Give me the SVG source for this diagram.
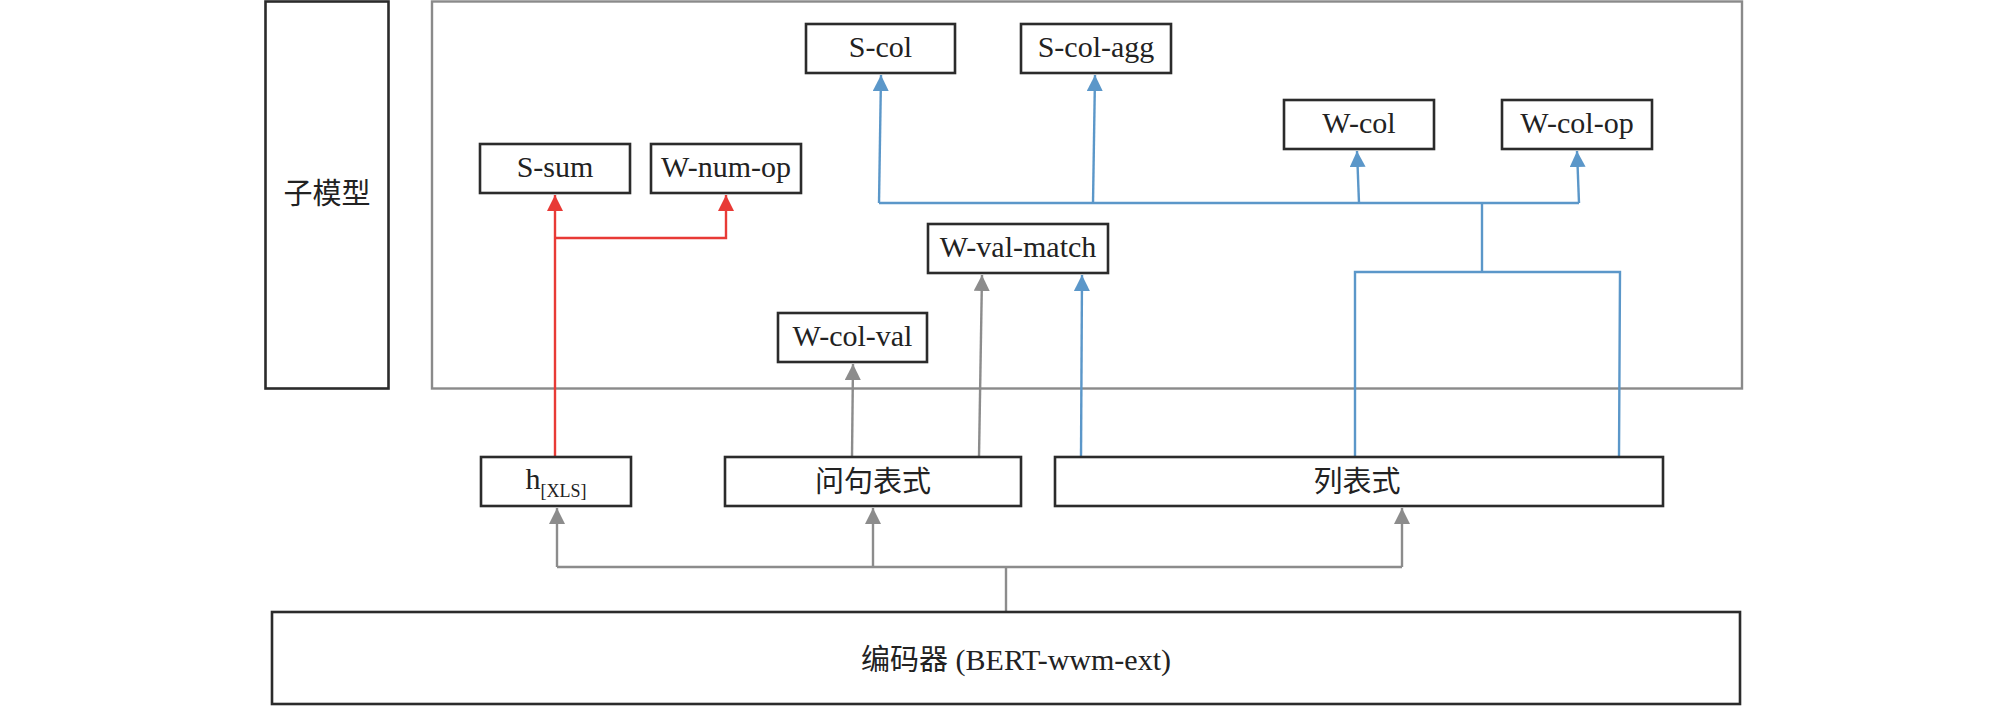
<svg xmlns="http://www.w3.org/2000/svg" width="2008" height="706" viewBox="0 0 2008 706">
<style>
.box{fill:#fff;stroke:#2b2b2b;stroke-width:2.6}
.frame{fill:none;stroke:#8a8a8a;stroke-width:2.4}
.t{font-family:"Liberation Serif","Noto Sans CJK SC",serif;font-size:30px;fill:#222;text-anchor:middle}
.zh{font-family:"Noto Sans CJK SC","Liberation Serif",sans-serif;font-size:29px;fill:#222;text-anchor:middle}
.red{fill:none;stroke:#e83a36;stroke-width:2.4}
.blue{fill:none;stroke:#5b97c9;stroke-width:2.4}
.gray{fill:none;stroke:#8c8c8c;stroke-width:2.4}
</style>
<defs>
<marker id="aRed" viewBox="0 0 16 16" markerWidth="16" markerHeight="16" markerUnits="userSpaceOnUse" refX="16" refY="8" orient="auto"><path d="M0,0 L16,8 L0,16 z" fill="#e83a36"/></marker>
<marker id="aBlue" viewBox="0 0 16 16" markerWidth="16" markerHeight="16" markerUnits="userSpaceOnUse" refX="16" refY="8" orient="auto"><path d="M0,0 L16,8 L0,16 z" fill="#5b97c9"/></marker>
<marker id="aGray" viewBox="0 0 16 16" markerWidth="16" markerHeight="16" markerUnits="userSpaceOnUse" refX="16" refY="8" orient="auto"><path d="M0,0 L16,8 L0,16 z" fill="#8c8c8c"/></marker>
</defs>
<rect width="2008" height="706" fill="#fff"/>

<g id="submodel-label">
<rect class="box" x="265.5" y="1.5" width="123" height="387"/>
<text class="zh" x="327" y="204">子模型</text>
</g>
<g id="submodel-frame">
<rect class="frame" x="432" y="1.5" width="1310" height="387"/>
</g>

<g id="connectors">
<path class="red" d="M555,457 L555,195" marker-end="url(#aRed)"/>
<path class="red" d="M555,238 L726,238 L726,195" marker-end="url(#aRed)"/>
<path class="gray" d="M852,457 L853,364" marker-end="url(#aGray)"/>
<path class="gray" d="M979,457 L982,275" marker-end="url(#aGray)"/>
<path class="blue" d="M1081,457 L1082,275" marker-end="url(#aBlue)"/>
<path class="blue" d="M1355,457 L1355,272 L1620,272 L1619,457"/>
<path class="blue" d="M1482,272 L1482,203"/>
<path class="blue" d="M879,203 L1579,203"/>
<path class="blue" d="M879,203 L881,75" marker-end="url(#aBlue)"/>
<path class="blue" d="M1093,203 L1095,75" marker-end="url(#aBlue)"/>
<path class="blue" d="M1359,203 L1357,151" marker-end="url(#aBlue)"/>
<path class="blue" d="M1579,203 L1577,151" marker-end="url(#aBlue)"/>
<path class="gray" d="M1006,612 L1006,567"/>
<path class="gray" d="M557,567 L1402,567"/>
<path class="gray" d="M557,567 L557,508" marker-end="url(#aGray)"/>
<path class="gray" d="M873,567 L873,508" marker-end="url(#aGray)"/>
<path class="gray" d="M1402,567 L1402,508" marker-end="url(#aGray)"/>
</g>

<g id="s-col"><rect class="box" x="806" y="24" width="149" height="49"/><text class="t" x="880.5" y="57">S-col</text></g>
<g id="s-col-agg"><rect class="box" x="1021" y="24" width="150" height="49"/><text class="t" x="1096" y="57">S-col-agg</text></g>
<g id="w-col"><rect class="box" x="1284" y="100" width="150" height="49"/><text class="t" x="1359" y="133">W-col</text></g>
<g id="w-col-op"><rect class="box" x="1502" y="100" width="150" height="49"/><text class="t" x="1577" y="133">W-col-op</text></g>
<g id="s-sum"><rect class="box" x="480" y="144" width="150" height="49"/><text class="t" x="555" y="177">S-sum</text></g>
<g id="w-num-op"><rect class="box" x="651" y="144" width="150" height="49"/><text class="t" x="726" y="177">W-num-op</text></g>
<g id="w-val-match"><rect class="box" x="928" y="224" width="180" height="49"/><text class="t" x="1018" y="257">W-val-match</text></g>
<g id="w-col-val"><rect class="box" x="778" y="313" width="149" height="49"/><text class="t" x="852.5" y="346">W-col-val</text></g>

<g id="h-xls"><rect class="box" x="481" y="457" width="150" height="49"/><text class="t" x="556" y="489">h<tspan font-size="18" dy="8">[XLS]</tspan></text></g>
<g id="question-repr"><rect class="box" x="725" y="457" width="296" height="49"/><text class="zh" x="873" y="492">问句表式</text></g>
<g id="column-repr"><rect class="box" x="1055" y="457" width="608" height="49"/><text class="zh" x="1357" y="492">列表式</text></g>

<g id="encoder"><rect class="box" x="272" y="612" width="1468" height="92"/><text class="t" x="1016" y="670"><tspan font-family="Noto Sans CJK SC, sans-serif" font-size="29">编码器</tspan> (BERT-wwm-ext)</text></g>
</svg>
